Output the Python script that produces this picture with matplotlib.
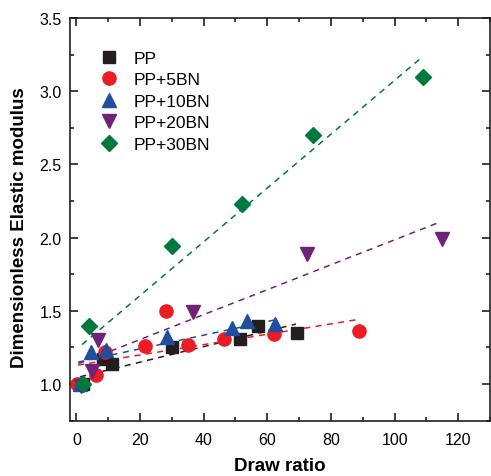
import numpy as np
import matplotlib
matplotlib.use('Agg')
import matplotlib.pyplot as plt
from matplotlib.ticker import MultipleLocator

matplotlib.rcParams['font.family'] = ['Liberation Sans', 'DejaVu Sans']

# draw ratio / dimensionless modulus
pp_x = [2.0, 8.5, 11.2, 29.9, 51.3, 57.0, 69.3]
pp_y = [1.00, 1.17, 1.14, 1.25, 1.31, 1.40, 1.35]

bn5_x = [0.2, 6.3, 9.0, 21.6, 28.3, 35.1, 46.4, 62.2, 88.8]
bn5_y = [1.00, 1.06, 1.22, 1.26, 1.50, 1.27, 1.31, 1.34, 1.36]

bn10_x = [1.0, 4.6, 9.4, 28.5, 49.0, 53.5, 62.5]
bn10_y = [1.00, 1.22, 1.23, 1.32, 1.38, 1.43, 1.41]

bn20_x = [1.5, 4.9, 6.8, 36.6, 72.5, 115.0]
bn20_y = [0.99, 1.09, 1.30, 1.49, 1.89, 1.99]

bn30_x = [2.2, 4.0, 30.0, 51.9, 74.4, 108.8]
bn30_y = [1.00, 1.40, 1.94, 2.23, 2.70, 3.10]

# dashed fit lines (end points)
fit_pp = ([1.2, 69.0], [1.05, 1.41])
fit_5 = ([0.5, 88.2], [1.13, 1.44])
fit_10 = ([0.5, 62.7], [1.15, 1.44])
fit_20 = ([0.7, 113.5], [1.14, 2.10])
fit_30 = ([1.8, 108.5], [1.27, 3.23])

c_pp = '#231f20'
c_5 = '#ec1c24'
c_10 = '#1f4f9e'
c_20 = '#6e2378'
c_30 = '#00793f'

fig = plt.figure(figsize=(4.91, 4.77), dpi=100)
ax = fig.add_axes([0.1426, 0.1159, 0.8554, 0.8443])

for (fx, fy), c in [(fit_pp, c_pp), (fit_5, c_5), (fit_10, c_10), (fit_20, c_20), (fit_30, c_30)]:
    ax.plot(fx, fy, '--', color=c, lw=1.1, dashes=(4, 3.5))

ax.plot(pp_x, pp_y, 's', color=c_pp, ms=8.6, ls='none', label='PP')
ax.plot(bn5_x, bn5_y, 'o', color=c_5, ms=9.5, ls='none', label='PP+5BN')
ax.plot(bn10_x, bn10_y, '^', color=c_10, ms=10, ls='none', label='PP+10BN')
ax.plot(bn20_x, bn20_y, 'v', color=c_20, ms=10, ls='none', label='PP+20BN')
ax.plot(bn30_x, bn30_y, 'D', color=c_30, ms=8, ls='none', label='PP+30BN')

ax.set_xticks([0, 20, 40, 60, 80, 100, 120])
ax.xaxis.set_minor_locator(MultipleLocator(10))
ax.yaxis.set_major_locator(MultipleLocator(0.5))
ax.yaxis.set_minor_locator(MultipleLocator(0.25))
ax.set_xlim(-2, 130)
ax.set_ylim(0.75, 3.5)
ax.tick_params(which='both', direction='in', top=True, right=True, labelsize=11.5, width=1.2, color='#231f20')
ax.tick_params(which='major', length=6, pad=6)
ax.tick_params(axis='x', which='major', pad=8)
ax.tick_params(which='minor', length=3)
ax.yaxis.set_major_formatter(matplotlib.ticker.FormatStrFormatter('%.1f'))
for s in ax.spines.values():
    s.set_linewidth(1.2)
    s.set_color('#231f20')

ax.set_xlabel('Draw ratio', fontsize=13.5, fontweight='bold')
ax.set_ylabel('Dimensionless Elastic modulus', fontsize=13.5, fontweight='bold')
ax.xaxis.set_label_coords(0.5, -0.09)
ax.yaxis.set_label_coords(-0.1, 0.481)

ax.legend(loc='upper left', bbox_to_anchor=(0.03, 0.958), frameon=False, fontsize=12.5,
          handletextpad=0.84, labelspacing=0.37, handlelength=1.2, numpoints=1)

plt.savefig('out.png', dpi=100)
